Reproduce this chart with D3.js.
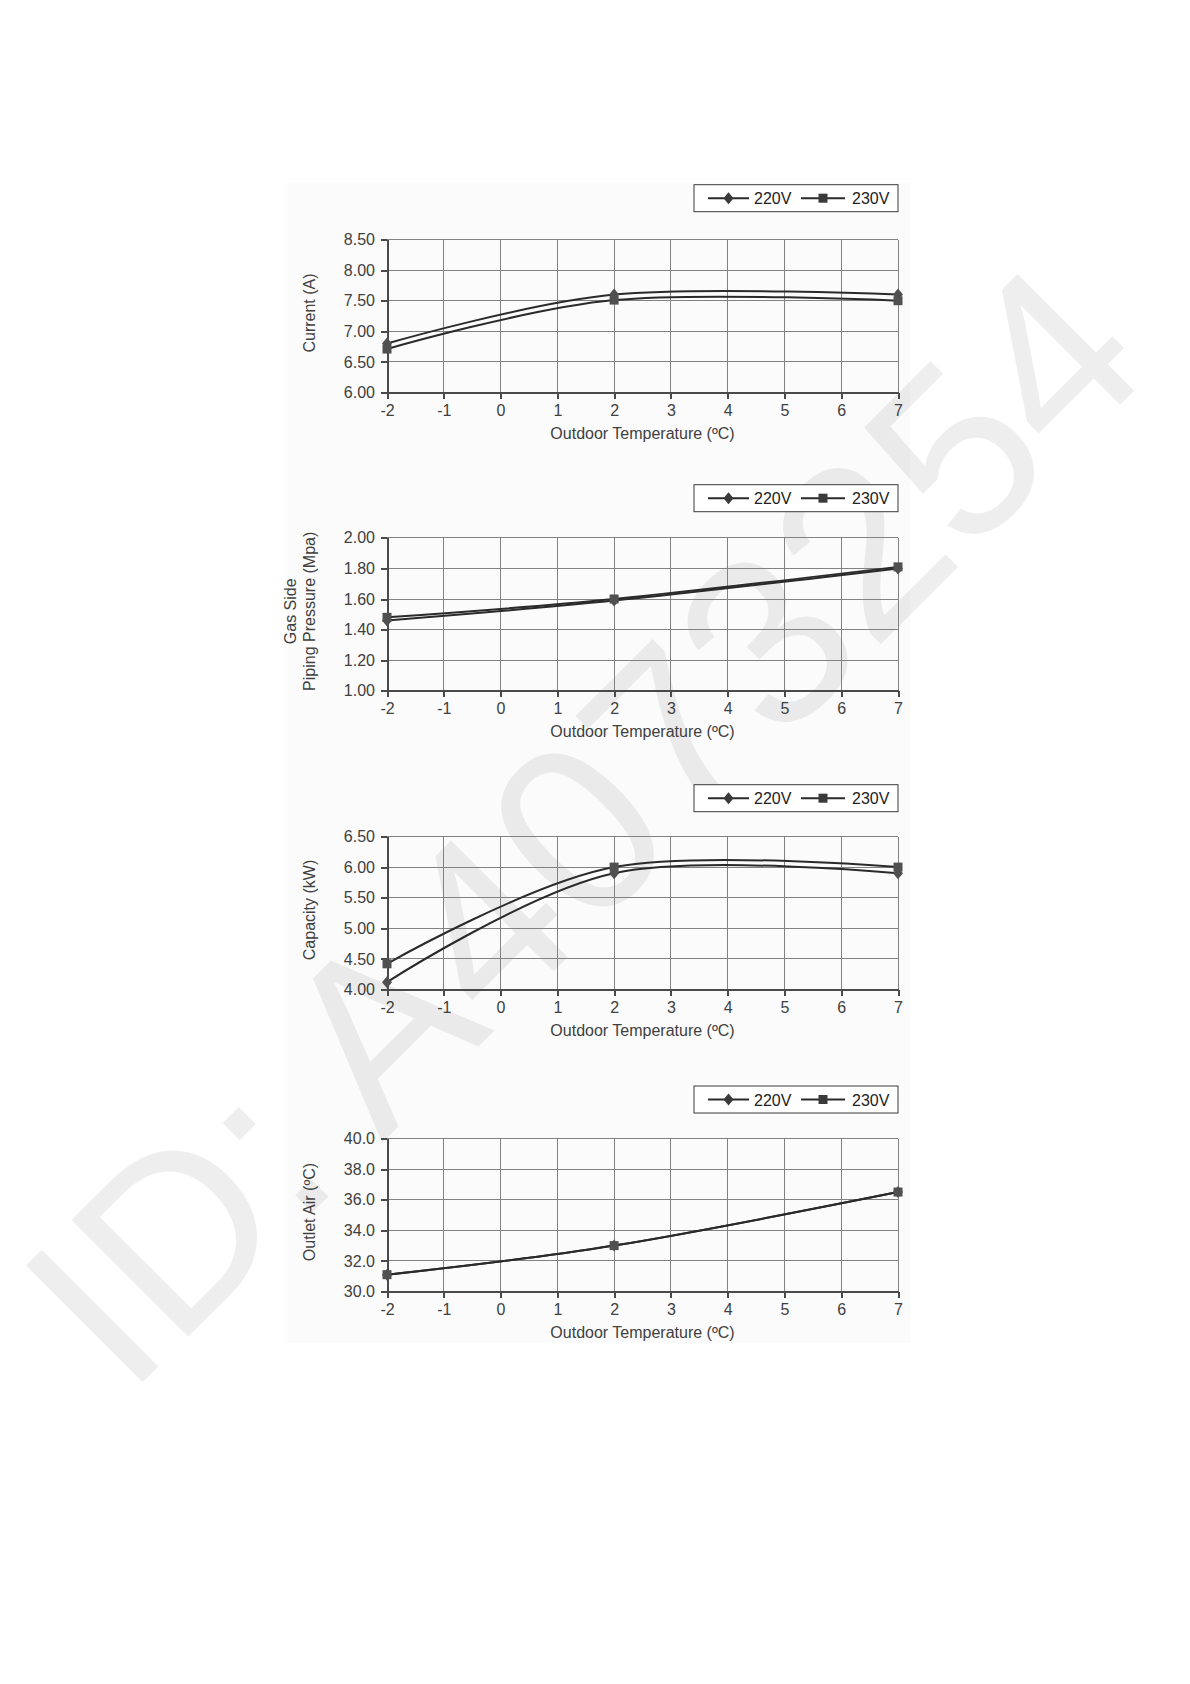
<!DOCTYPE html>
<html lang="en">
<head>
<meta charset="utf-8" />
<title>Outdoor temperature performance</title>
<style>
    body { margin: 0; background: #fff; }
    svg text { font-family: "Liberation Sans", Arial, sans-serif; }
    .axis path, .axis line { fill: none; stroke: #4a4a4a; stroke-width: 2; shape-rendering: crispEdges; }
    .axis text { font-size: 16px; fill: #404040; }
    .grid line { stroke: #828282; stroke-width: 1; shape-rendering: crispEdges; }
</style>
</head>
<body>
<script src="https://d3js.org/d3.v7.min.js"></script>
<script>
// outdoor temperature of the measured points, and the x axis ticks
var temps = [-2, 2, 7];
var xTicks = [-2, -1, 0, 1, 2, 3, 4, 5, 6, 7];
var seriesNames = ["220V", "230V"];

// values
var current220 = [6.80, 7.60, 7.60];
var current230 = [6.71, 7.51, 7.50];
var pressure220 = [1.46, 1.59, 1.80];
var pressure230 = [1.48, 1.60, 1.81];
var capacity220 = [4.12, 5.90, 5.90];
var capacity230 = [4.42, 6.00, 6.00];
var outlet220 = [31.1, 33.0, 36.5];
var outlet230 = [31.1, 33.0, 36.5];

// y tick labels of each panel
var currentTicks = [6.00, 6.50, 7.00, 7.50, 8.00, 8.50];
var pressureTicks = [1.00, 1.20, 1.40, 1.60, 1.80, 2.00];
var capacityTicks = [4.00, 4.50, 5.00, 5.50, 6.00, 6.50];
var outletTicks = [30.0, 32.0, 34.0, 36.0, 38.0, 40.0];

var charts = [
    { title: ["Current (A)"], ticks: currentTicks, fmt: ".2f", s220: current220, s230: current230, top: 239.5, legendTop: 184.7 },
    { title: ["Gas Side", "Piping Pressure (Mpa)"], ticks: pressureTicks, fmt: ".2f", s220: pressure220, s230: pressure230, top: 537.8, legendTop: 484.7 },
    { title: ["Capacity (kW)"], ticks: capacityTicks, fmt: ".2f", s220: capacity220, s230: capacity230, top: 836.5, legendTop: 784.7 },
    { title: ["Outlet Air (ºC)"], ticks: outletTicks, fmt: ".1f", s220: outlet220, s230: outlet230, top: 1138.5, legendTop: 1086 }
];

var W = 1190, H = 1684;
var left = 387, right = 898, high = 153;

var svg = d3.select("body").append("svg")
    .attr("width", W).attr("height", H);

// faint panel behind the charts
svg.append("rect")
    .attr("x", 287).attr("y", 183).attr("width", 623).attr("height", 1160)
    .attr("fill", "#fbfbfb");

// watermark
svg.append("text")
    .attr("transform", "translate(127,1398)rotate(-45)")
    .attr("font-size", 240).attr("fill", "#000").attr("fill-opacity", 0.065)
    .text("ID: A4073254");

var x = d3.scaleLinear().domain([-2, 7]).range([left, right]);

var diamond = "M0,-6L5,0L0,6L-5,0Z";
var square = "M-4.5,-4.5H4.5V4.5H-4.5Z";
var markers = [diamond, square];

charts.forEach(function (c) {
    var y = d3.scaleLinear().domain(d3.extent(c.ticks)).range([c.top + high, c.top]);
    var g = svg.append("g");

    // grid
    var grid = g.append("g").attr("class", "grid");
    grid.selectAll(".gx").data(xTicks).enter().append("line")
        .attr("x1", function (d) { return x(d); }).attr("x2", function (d) { return x(d); })
        .attr("y1", c.top).attr("y2", c.top + high);
    grid.selectAll(".gy").data(c.ticks).enter().append("line")
        .attr("x1", left).attr("x2", right)
        .attr("y1", function (d) { return y(d); }).attr("y2", function (d) { return y(d); });

    // axes
    g.append("g").attr("class", "axis")
        .attr("transform", "translate(" + left + ",0)")
        .call(d3.axisLeft(y).tickValues(c.ticks).tickFormat(d3.format(c.fmt)).tickSizeInner(6).tickSizeOuter(0).tickPadding(6));
    g.append("g").attr("class", "axis")
        .attr("transform", "translate(0," + (c.top + high) + ")")
        .call(d3.axisBottom(x).tickValues(xTicks).tickFormat(function (d) { return String(d); }).tickSizeInner(6).tickSizeOuter(0).tickPadding(6));

    // titles
    g.append("text")
        .attr("x", (left + right) / 2).attr("y", c.top + high + 46)
        .attr("text-anchor", "middle").attr("font-size", 16).attr("fill", "#404040")
        .text("Outdoor Temperature (ºC)");
    var n = c.title.length;
    c.title.forEach(function (t, i) {
        var bx = 315 - (n - 1 - i) * 19;
        g.append("text")
            .attr("text-anchor", "middle").attr("font-size", 16).attr("fill", "#404040")
            .attr("transform", "translate(" + bx + "," + (c.top + high / 2 - 3) + ")rotate(-90)")
            .text(t);
    });

    // series
    var line = d3.line()
        .x(function (d) { return x(d[0]); })
        .y(function (d) { return y(d[1]); })
        .curve(d3.curveCardinal);
    [c.s220, c.s230].forEach(function (vals, k) {
        var pts = temps.map(function (t, i) { return [t, vals[i]]; });
        g.append("path").datum(pts)
            .attr("d", line)
            .attr("fill", "none").attr("stroke", "#2a2a2a").attr("stroke-width", 2);
        g.selectAll(".m" + k).data(pts).enter().append("path")
            .attr("d", markers[k])
            .attr("transform", function (d) { return "translate(" + x(d[0]) + "," + y(d[1]) + ")"; })
            .attr("fill", "#505050");
    });

    // legend
    var lg = g.append("g").attr("transform", "translate(" + (right - 204) + "," + c.legendTop + ")");
    lg.append("rect").attr("width", 204).attr("height", 27)
        .attr("fill", "#fff").attr("stroke", "#3a3a3a").attr("stroke-width", 1);
    var items = [{ x0: 14, x1: 55, tx: 60 }, { x0: 107, x1: 151, tx: 158 }];
    items.forEach(function (it, k) {
        lg.append("line").attr("x1", it.x0).attr("x2", it.x1).attr("y1", 13.5).attr("y2", 13.5)
            .attr("stroke", "#2a2a2a").attr("stroke-width", 2);
        lg.append("path").attr("d", markers[k])
            .attr("transform", "translate(" + ((it.x0 + it.x1) / 2) + ",13.5)")
            .attr("fill", "#3a3a3a");
        lg.append("text").attr("x", it.tx).attr("y", 19.5)
            .attr("font-size", 16).attr("fill", "#222")
            .text(seriesNames[k]);
    });
});
</script>
</body>
</html>
